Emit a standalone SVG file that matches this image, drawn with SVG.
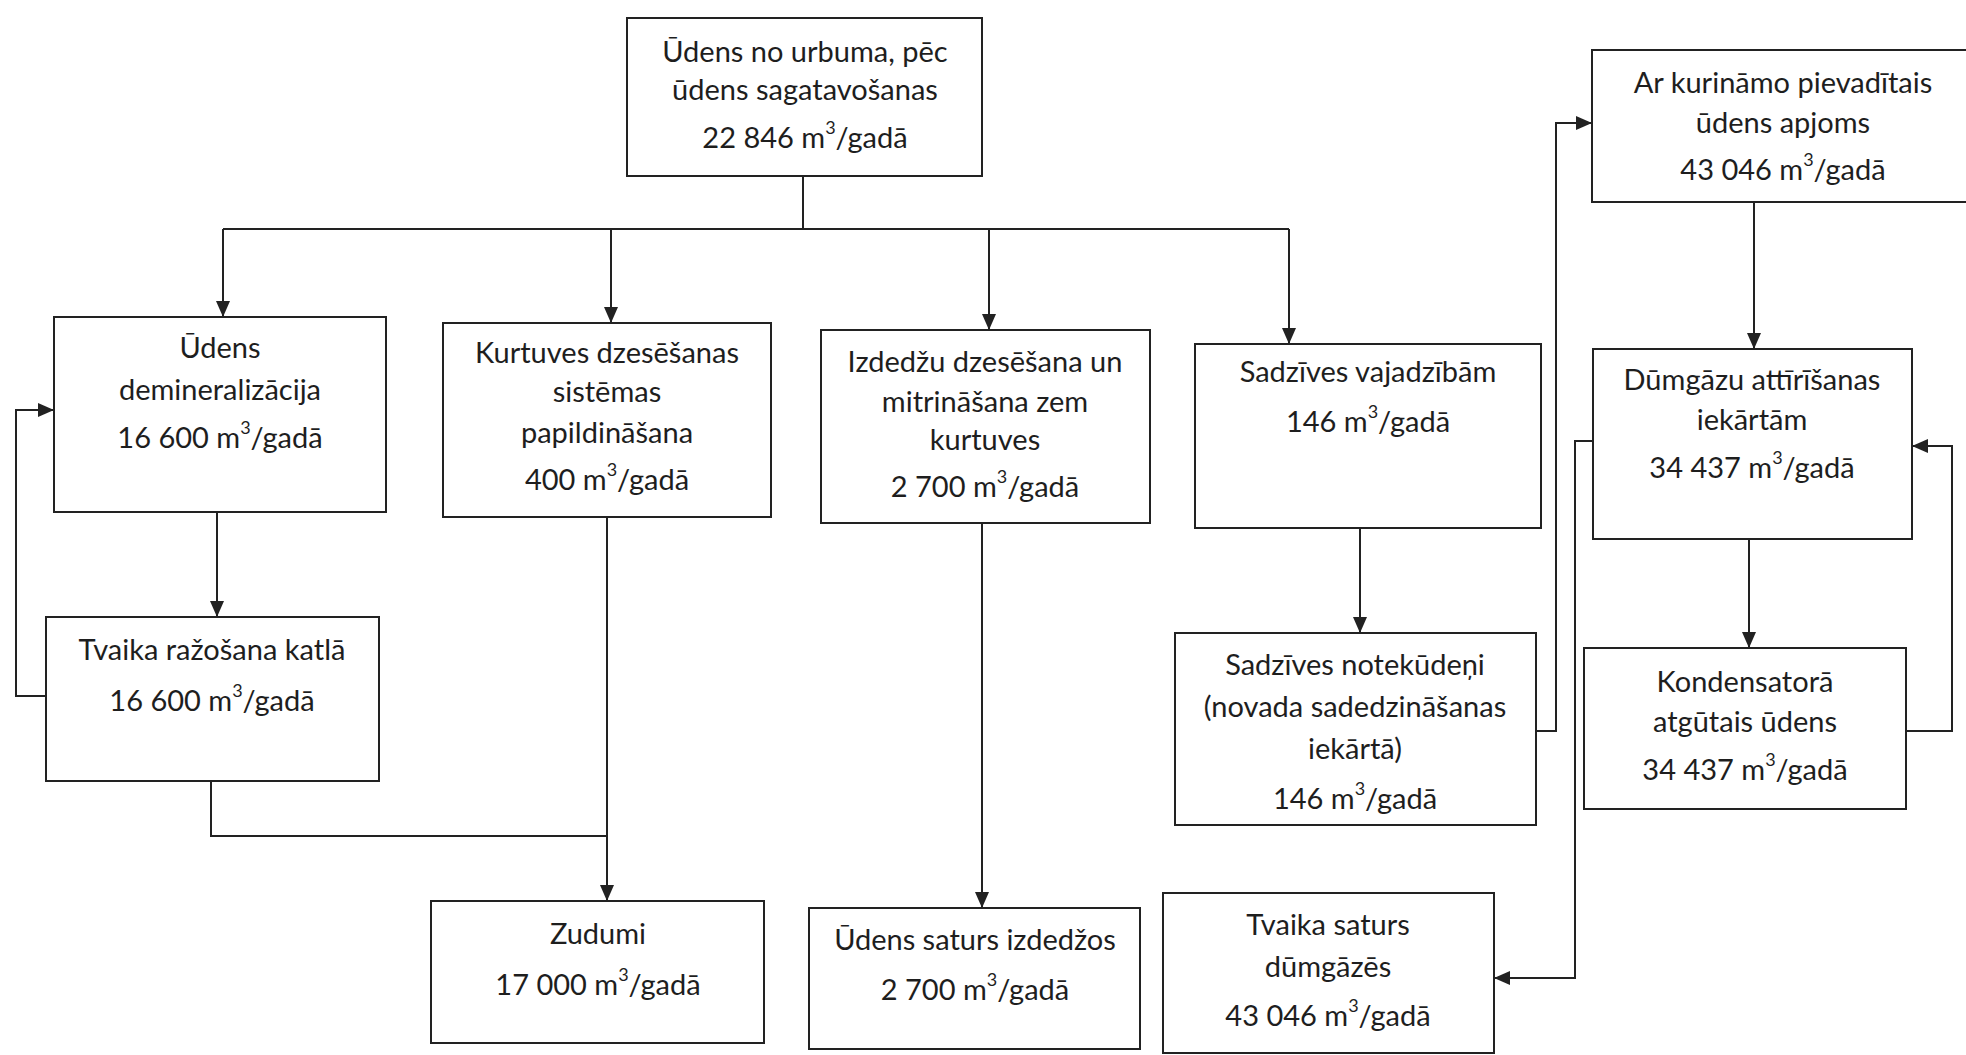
<svg xmlns="http://www.w3.org/2000/svg" width="1966" height="1055" viewBox="0 0 1966 1055">
<style>
.box{fill:#fff;stroke:#222;stroke-width:2}
.t{font-family:Lato,"Liberation Sans",sans-serif;font-size:29px;fill:#1e1e1e;text-anchor:middle}
.sup{font-size:18px}
.c{fill:none;stroke:#222;stroke-width:2}
</style>
<defs>
<marker id="arr" viewBox="0 0 16 14" refX="16" refY="7" markerWidth="16" markerHeight="14" orient="auto" markerUnits="userSpaceOnUse">
<path d="M0,0 L16,7 L0,14 z" fill="#222"/>
</marker>
</defs>
<rect width="1966" height="1055" fill="#fff"/>
<g id="connectors">
<path class="c" d="M803,176 V229"/>
<path class="c" d="M223,229 H1289"/>
<path class="c" d="M223,229 V317" marker-end="url(#arr)"/>
<path class="c" d="M611,229 V323" marker-end="url(#arr)"/>
<path class="c" d="M989,229 V330" marker-end="url(#arr)"/>
<path class="c" d="M1289,229 V344" marker-end="url(#arr)"/>
<path class="c" d="M217,512 V617" marker-end="url(#arr)"/>
<path class="c" d="M46,696 H16 V410 H54" marker-end="url(#arr)"/>
<path class="c" d="M211,781 V836 H607"/>
<path class="c" d="M607,517 V901" marker-end="url(#arr)"/>
<path class="c" d="M982,523 V908" marker-end="url(#arr)"/>
<path class="c" d="M1360,528 V633" marker-end="url(#arr)"/>
<path class="c" d="M1536,731 H1556 V123 H1592" marker-end="url(#arr)"/>
<path class="c" d="M1754,202 V349" marker-end="url(#arr)"/>
<path class="c" d="M1593,441 H1575 V978 H1494" marker-end="url(#arr)"/>
<path class="c" d="M1749,539 V648" marker-end="url(#arr)"/>
<path class="c" d="M1906,731 H1952 V446 H1912" marker-end="url(#arr)"/>
</g>
<g id="n-urbums">
<rect class="box" x="627" y="18" width="355" height="158"/>
<text class="t" x="805" y="62">Ūdens no urbuma, pēc</text>
<text class="t" x="805" y="100">ūdens sagatavošanas</text>
<text class="t" x="805" y="148">22 846 m<tspan class="sup" dy="-14">3</tspan><tspan dy="14">/gadā</tspan></text>
</g>
<g id="n-demin">
<rect class="box" x="54" y="317" width="332" height="195"/>
<text class="t" x="220" y="358">Ūdens</text>
<text class="t" x="220" y="400">demineralizācija</text>
<text class="t" x="220" y="448">16 600 m<tspan class="sup" dy="-14">3</tspan><tspan dy="14">/gadā</tspan></text>
</g>
<g id="n-kurtuves">
<rect class="box" x="443" y="323" width="328" height="194"/>
<text class="t" x="607" y="363">Kurtuves dzesēšanas</text>
<text class="t" x="607" y="402">sistēmas</text>
<text class="t" x="607" y="443">papildināšana</text>
<text class="t" x="607" y="490">400 m<tspan class="sup" dy="-14">3</tspan><tspan dy="14">/gadā</tspan></text>
</g>
<g id="n-izdedzu">
<rect class="box" x="821" y="330" width="329" height="193"/>
<text class="t" x="985" y="372">Izdedžu dzesēšana un</text>
<text class="t" x="985" y="412">mitrināšana zem</text>
<text class="t" x="985" y="450">kurtuves</text>
<text class="t" x="985" y="497">2 700 m<tspan class="sup" dy="-14">3</tspan><tspan dy="14">/gadā</tspan></text>
</g>
<g id="n-sadzives">
<rect class="box" x="1195" y="344" width="346" height="184"/>
<text class="t" x="1368" y="382">Sadzīves vajadzībām</text>
<text class="t" x="1368" y="432">146 m<tspan class="sup" dy="-14">3</tspan><tspan dy="14">/gadā</tspan></text>
</g>
<g id="n-kurinamo">
<rect class="box" x="1592" y="50" width="390" height="152"/>
<text class="t" x="1783" y="93">Ar kurināmo pievadītais</text>
<text class="t" x="1783" y="133">ūdens apjoms</text>
<text class="t" x="1783" y="180">43 046 m<tspan class="sup" dy="-14">3</tspan><tspan dy="14">/gadā</tspan></text>
</g>
<g id="n-dumgazu">
<rect class="box" x="1593" y="349" width="319" height="190"/>
<text class="t" x="1752" y="390">Dūmgāzu attīrīšanas</text>
<text class="t" x="1752" y="430">iekārtām</text>
<text class="t" x="1752" y="478">34 437 m<tspan class="sup" dy="-14">3</tspan><tspan dy="14">/gadā</tspan></text>
</g>
<g id="n-tvaika-katla">
<rect class="box" x="46" y="617" width="333" height="164"/>
<text class="t" x="212" y="660">Tvaika ražošana katlā</text>
<text class="t" x="212" y="711">16 600 m<tspan class="sup" dy="-14">3</tspan><tspan dy="14">/gadā</tspan></text>
</g>
<g id="n-notekudeni">
<rect class="box" x="1175" y="633" width="361" height="192"/>
<text class="t" x="1355" y="675">Sadzīves notekūdeņi</text>
<text class="t" x="1355" y="717">(novada sadedzināšanas</text>
<text class="t" x="1355" y="759">iekārtā)</text>
<text class="t" x="1355" y="809">146 m<tspan class="sup" dy="-14">3</tspan><tspan dy="14">/gadā</tspan></text>
</g>
<g id="n-kondensatora">
<rect class="box" x="1584" y="648" width="322" height="161"/>
<text class="t" x="1745" y="692">Kondensatorā</text>
<text class="t" x="1745" y="732">atgūtais ūdens</text>
<text class="t" x="1745" y="780">34 437 m<tspan class="sup" dy="-14">3</tspan><tspan dy="14">/gadā</tspan></text>
</g>
<g id="n-zudumi">
<rect class="box" x="431" y="901" width="333" height="142"/>
<text class="t" x="598" y="944">Zudumi</text>
<text class="t" x="598" y="995">17 000 m<tspan class="sup" dy="-14">3</tspan><tspan dy="14">/gadā</tspan></text>
</g>
<g id="n-izdedzos">
<rect class="box" x="809" y="908" width="331" height="141"/>
<text class="t" x="975" y="950">Ūdens saturs izdedžos</text>
<text class="t" x="975" y="1000">2 700 m<tspan class="sup" dy="-14">3</tspan><tspan dy="14">/gadā</tspan></text>
</g>
<g id="n-dumgazes">
<rect class="box" x="1163" y="893" width="331" height="160"/>
<text class="t" x="1328" y="935">Tvaika saturs</text>
<text class="t" x="1328" y="977">dūmgāzēs</text>
<text class="t" x="1328" y="1026">43 046 m<tspan class="sup" dy="-14">3</tspan><tspan dy="14">/gadā</tspan></text>
</g>
</svg>
